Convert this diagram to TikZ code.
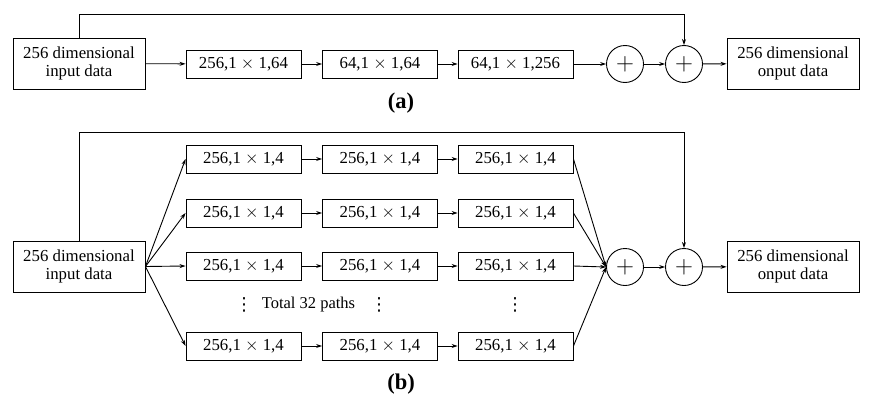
\documentclass[tikz,border=0pt]{standalone}
\usepackage{fontspec}
\setmainfont{Liberation Serif}
\newfontfamily\dvfont{DejaVu Sans}
\usetikzlibrary{arrows.meta}
\begin{document}
\begin{tikzpicture}[x=1pt,y=-1pt,
  every node/.style={font=\fontsize{16.5}{18}\selectfont},
  bigbox/.style={draw,line width=0.9pt,minimum width=132pt,minimum height=51pt,inner sep=0pt,align=center,font=\fontsize{16.8}{17.5}\selectfont},
  opbox/.style={draw,line width=0.9pt,minimum width=115pt,minimum height=28pt,inner sep=0pt,font=\fontsize{16.8}{18}\selectfont},
  addc/.style={draw,circle,line width=0.9pt,minimum size=37pt,inner sep=0pt,font=\fontsize{24}{24}\selectfont},
  arr/.style={line width=0.9pt,-{Stealth[length=6pt,width=4pt]}},
  dots/.style={inner sep=0pt,font=\dvfont\fontsize{18}{18}\selectfont},
  lab/.style={font=\fontsize{22.5}{24}\selectfont\bfseries}]
\useasboundingbox (0,0) rectangle (874,404);
% ---------- (a)
\node[bigbox] (ain) at (79,63.5) {256 dimensional\\input data};
\node[opbox] (a1) at (243.5,64) {256,1 $\times$ 1,64};
\node[opbox] (a2) at (380,64) {64,1 $\times$ 1,64};
\node[opbox] (a3) at (515.5,64) {64,1 $\times$ 1,256};
\node[addc] (ap1) at (625,64) {$+$};
\node[addc] (ap2) at (684,64) {$+$};
\node[bigbox] (aout) at (793,63.5) {256 dimensional\\onput data};
\draw[arr] (ain) -- (a1);
\draw[arr] (a1) -- (a2);
\draw[arr] (a2) -- (a3);
\draw[arr] (a3) -- (ap1);
\draw[arr] (ap1) -- (ap2);
\draw[arr] (ap2) -- (aout);
\draw[arr] (ain.north) -- ++(0,-23) -| (ap2.north);
\node[lab] (la) at (401,103) {(a)};
% ---------- (b)
\node[bigbox] (bin) at (79,266.5) {256 dimensional\\input data};
\foreach \r/\y in {1/159,2/213,3/266,4/346}{
  \node[opbox] (b\r1) at (243.5,\y) {256,1 $\times$ 1,4};
  \node[opbox] (b\r2) at (380,\y) {256,1 $\times$ 1,4};
  \node[opbox] (b\r3) at (515.5,\y) {256,1 $\times$ 1,4};
}
\node[addc] (bp1) at (625,267) {$+$};
\node[addc] (bp2) at (684,267) {$+$};
\node[bigbox] (bout) at (793,266.5) {256 dimensional\\onput data};
\foreach \r in {1,2,3,4}{
  \draw[arr] (bin.east) -- (b\r1.west);
  \draw[arr] (b\r1) -- (b\r2);
  \draw[arr] (b\r2) -- (b\r3);
  \draw[arr] (b\r3.east) -- (bp1.west);
}
\draw[arr] (bp1) -- (bp2);
\draw[arr] (bp2) -- (bout);
\draw[arr] (bin.north) -- (79,132) -| (bp2.north);
\node[dots] (d1) at (244,305) {⋮};
\node[inner sep=0pt] (tot) at (308.5,305) {Total 32 paths};
\node[dots] (d2) at (379,305) {⋮};
\node[dots] (d3) at (515,305) {⋮};
\node[lab] (lb) at (401,384) {(b)};
\end{tikzpicture}
\end{document}
